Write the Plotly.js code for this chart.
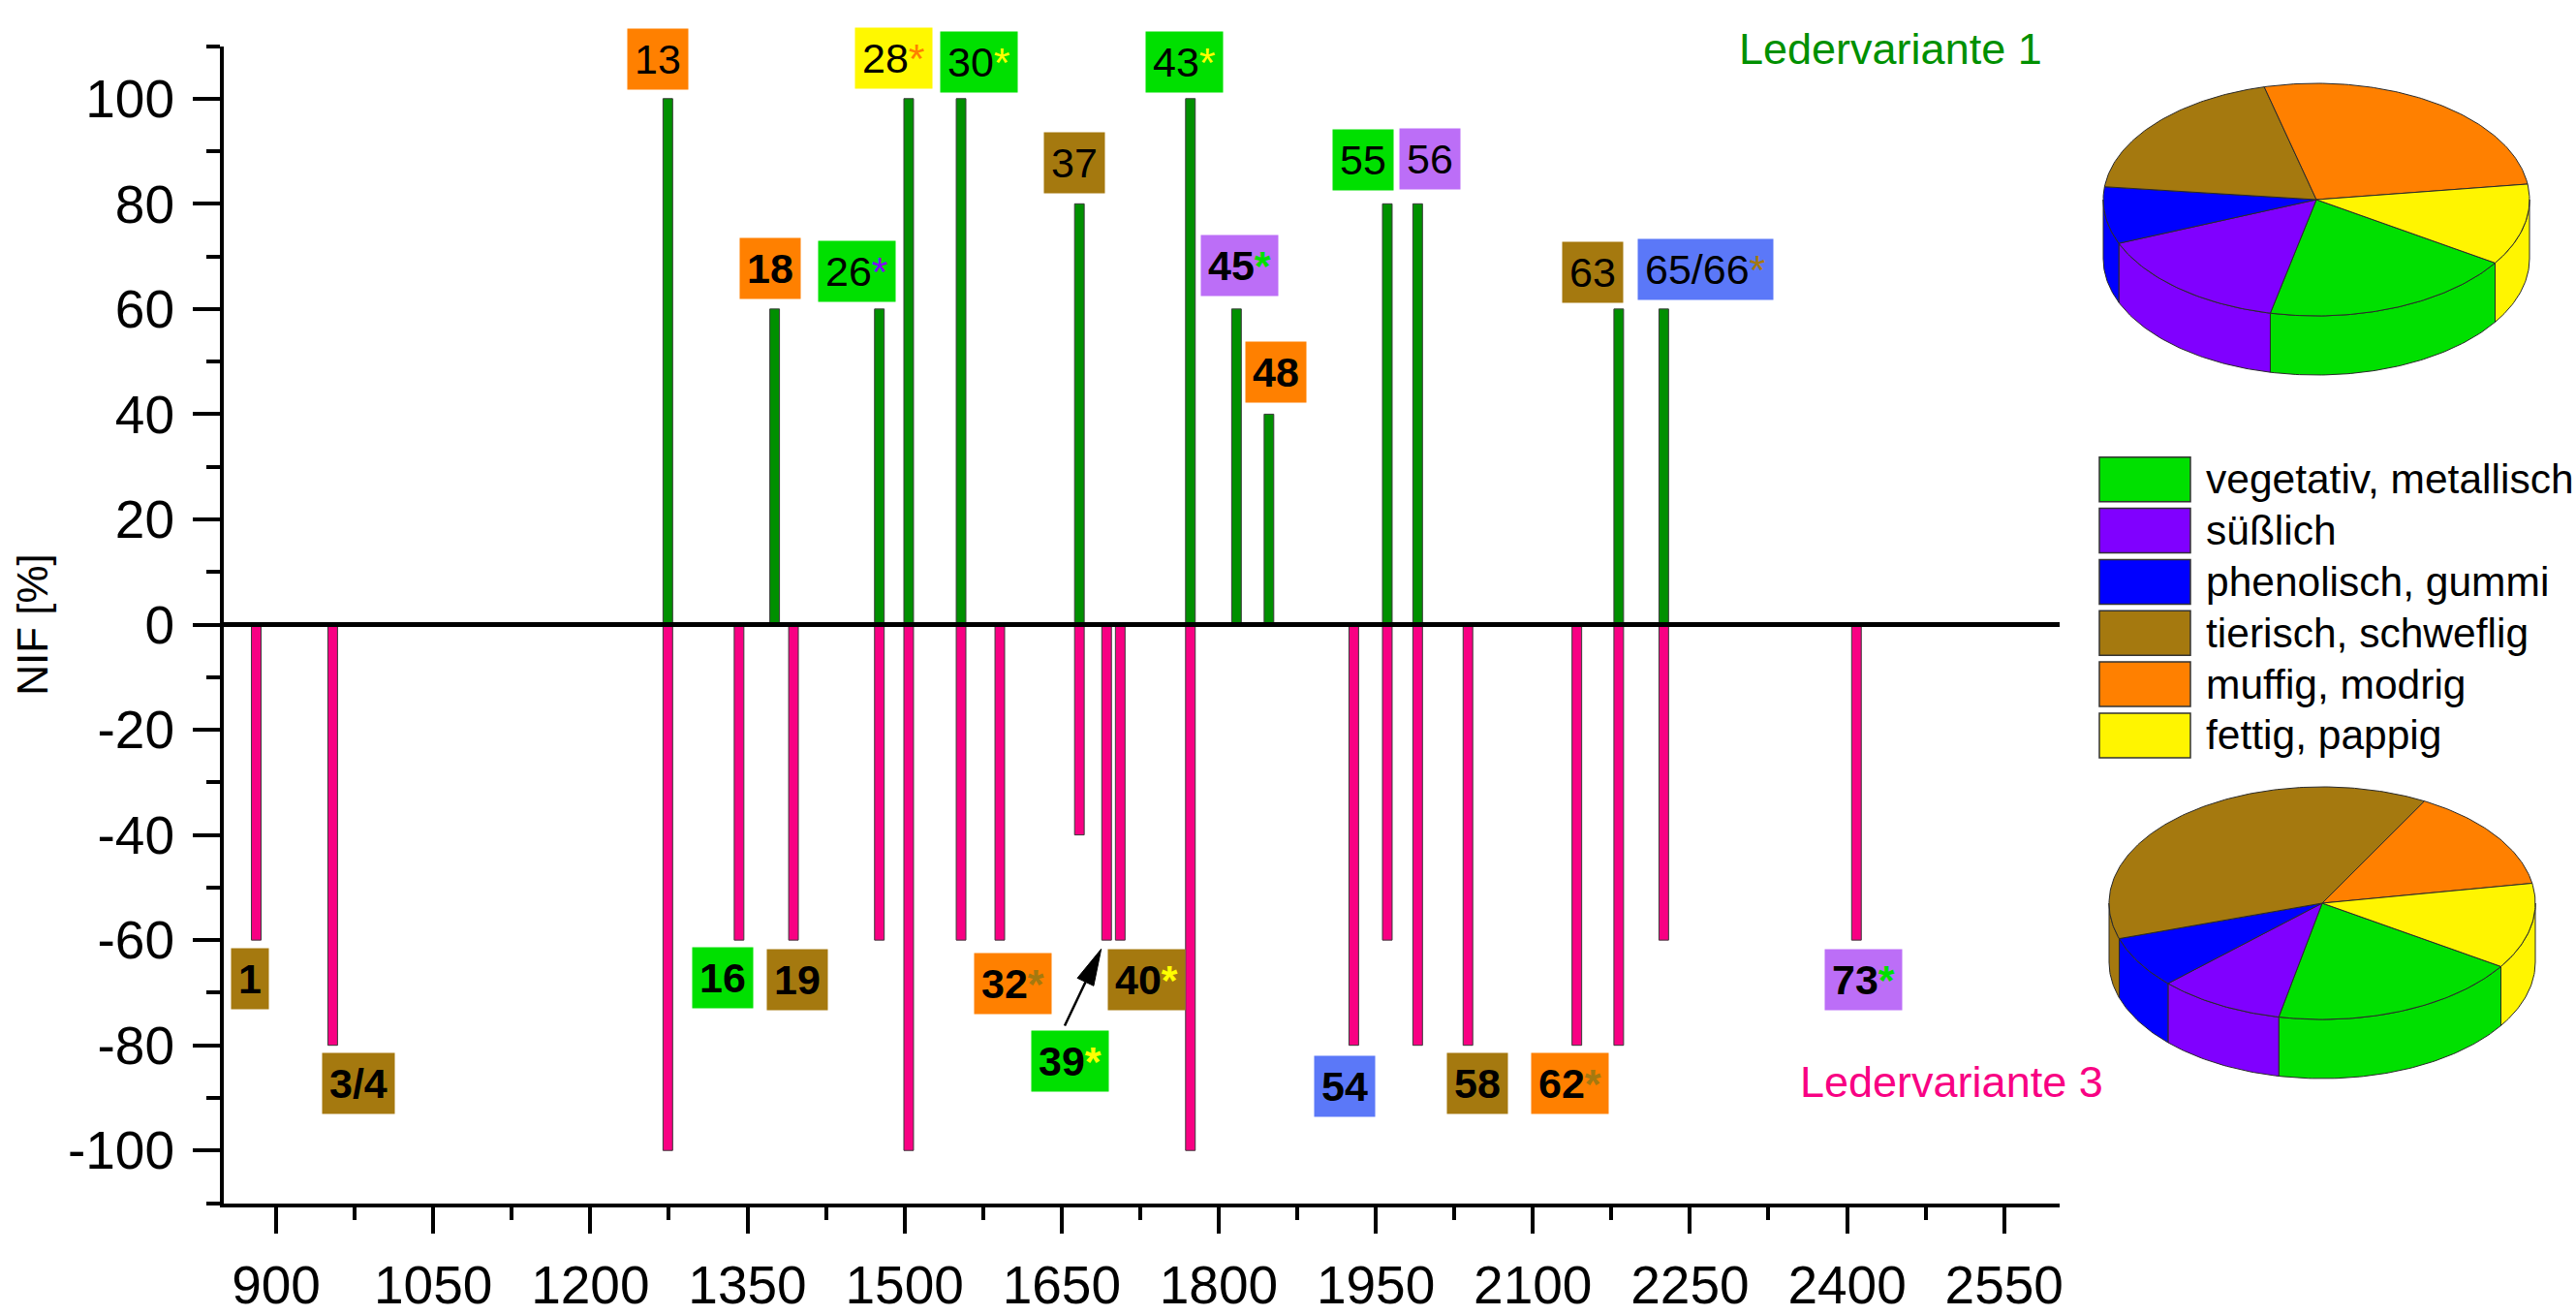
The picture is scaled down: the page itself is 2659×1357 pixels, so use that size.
<!DOCTYPE html>
<html>
<head>
<meta charset="utf-8">
<script src="https://cdn.plot.ly/plotly-3.0.1.min.js"></script>
<style>
  html, body { margin: 0; padding: 0; background: #ffffff; }
  #chart { width: 2659px; height: 1357px; }
</style>
</head>
<body>
<div id="chart"></div>
<script>
// ---- Data -------------------------------------------------------------
// Retention index and NIF of the odour-active compounds, leather variant 1
const riVariant1  = [1274, 1376, 1476, 1504, 1554, 1667, 1773, 1817, 1848, 1961, 1990, 2182, 2225];
const nifVariant1 = [100, 60, 60, 100, 100, 80, 100, 60, 40, 80, 80, 60, 60];

// Leather variant 3 (drawn downwards)
const riVariant3  = [881, 954, 1274, 1342, 1394, 1476, 1504, 1554, 1591, 1667, 1693, 1706, 1773, 1929, 1961, 1990, 2038, 2142, 2182, 2225, 2409];
const nifVariant3 = [-60, -80, -100, -60, -60, -60, -100, -60, -60, -40, -60, -60, -100, -80, -60, -80, -80, -80, -80, -60, -60];

// Odour categories
const categories = ['vegetativ, metallisch', 'süßlich', 'phenolisch, gummi', 'tierisch, schweflig', 'muffig, modrig', 'fettig, pappig'];

// Share of each category per variant (pie charts), in %
const shareVariant1 = [19.3, 15.4, 7.9, 19.3, 26.8, 11.3];
const shareVariant3 = [19.1, 9.6, 7.2, 37.9, 14.3, 11.9];

// Compound numbers above variant 1 (one per bar)
const labels1     = ['13', '18', '26', '28', '30', '37', '43', '45', '48', '55', '56', '63', '65/66'];
const labelCat1   = [4, 4, 0, 5, 0, 3, 0, 1, 4, 0, 1, 3, 2];
const labelStar1  = [-1, -1, 1, 4, 5, -1, 5, 0, -1, -1, -1, -1, 3];
const labelBold1  = [0, 1, 0, 0, 0, 0, 0, 1, 1, 0, 0, 0, 0];

// Compound numbers below variant 3 (index of the bar they belong to)
const labels3     = ['1', '3/4', '16', '19', '32', '39', '40', '54', '58', '62', '73'];
const labelBar3   = [0, 1, 3, 4, 8, 10, 11, 13, 16, 17, 20];
const labelCat3   = [3, 3, 0, 3, 4, 0, 3, 2, 3, 4, 1];
const labelStar3  = [-1, -1, -1, -1, 3, 5, 5, -1, -1, 3, 0];

const xTickValues = [900, 1050, 1200, 1350, 1500, 1650, 1800, 1950, 2100, 2250, 2400, 2550];
const yTickValues = [-100, -80, -60, -40, -20, 0, 20, 40, 60, 80, 100];
const yTickLabels = ['-100', '-80', '-60', '-40', '-20', '0', '20', '40', '60', '80', '100'];

// ---- Styling -----------------------------------------------------------
const W = 2659, H = 1357;
const FONT = 'Arial, "Liberation Sans", sans-serif';
const catColors = ['#00E000', '#8000FF', '#0000FF', '#A5790F', '#FF8000', '#FFF500'];
const boxColors = ['#00E000', '#BC6EF7', '#5B78F8', '#A5790F', '#FF8000', '#FFF800'];
const starColors = ['#00E000', '#8000FF', '#0000FF', '#A5790F', '#FF8000', '#FFFF00'];
const green = '#009000', pink = '#F80083';

// main plot frame in px
const plotL = 231, plotR = 2126, plotT = 47.5, plotB = 1241.5;
const xRange = [850, 2603], yRange = [-110, 110];
const xScale = (plotR - plotL) / (xRange[1] - xRange[0]);   // px per RI unit
const yScale = (plotB - plotT) / (yRange[1] - yRange[0]);   // px per NIF unit

// label placement relative to the bar end, in px (dx right, dy away from axis)
const place1 = [[-10, 41], [-5, 42], [-23, 39], [-15, 42], [18, 38], [-5, 42], [-6, 38], [3, 45], [7, 43], [-25, 45], [13, 46], [-27, 38], [43, 41]];
const place3 = [[-7, 40], [27, 39], [-17, 39], [4, 41], [13, 45], [-38, 125], [27, 41], [-9, 42], [10, 39], [-7, 39], [7, 41]];

// paper coordinates from pixel positions (margins are zero)
const px = v => v / W;
const py = v => 1 - v / H;

function labelText(t, bold, star) {
  let s = t;
  if (star >= 0) s += '<span style="color:' + starColors[star] + '">*</span>';
  return bold ? '<b>' + s + '</b>' : s;
}

const annotations = [];
const shapes = [];

labels1.forEach((t, i) => {
  annotations.push({
    x: riVariant1[i], y: nifVariant1[i], xref: 'x', yref: 'y',
    xshift: place1[i][0], yshift: place1[i][1],
    text: labelText(t, labelBold1[i], labelStar1[i]),
    showarrow: false, xanchor: 'center', yanchor: 'middle',
    bgcolor: boxColors[labelCat1[i]], borderpad: 7,
    font: { family: FONT, size: 43, color: '#000' }
  });
});

labels3.forEach((t, i) => {
  const b = labelBar3[i];
  annotations.push({
    x: riVariant3[b], y: nifVariant3[b], xref: 'x', yref: 'y',
    xshift: place3[i][0], yshift: -place3[i][1],
    text: labelText(t, 1, labelStar3[i]),
    showarrow: false, xanchor: 'center', yanchor: 'middle',
    bgcolor: boxColors[labelCat3[i]], borderpad: 7,
    font: { family: FONT, size: 43, color: '#000' }
  });
});

// pointer from label 39 to its bar: shaft plus a slim filled head
(function () {
  const b = labelBar3[labels3.indexOf('39')];
  const bx = riVariant3[b], by = nifVariant3[b];
  const toData = (dx, dy) => [bx + dx / xScale, by - dy / yScale];
  annotations.push({
    x: bx, y: by, xref: 'x', yref: 'y', xshift: -21.8, yshift: -43.2,
    ax: -22.2, ay: 46.7, text: '', showarrow: true, arrowhead: 0,
    arrowwidth: 2.5, arrowcolor: '#000', standoff: 0, startstandoff: 0
  });
  const tip = toData(-5.6, 9.2), c1 = toData(-13.4, 47.2), c2 = toData(-30.2, 39.2);
  shapes.push({
    type: 'path', xref: 'x', yref: 'y',
    path: 'M' + tip.join(',') + ' L' + c1.join(',') + ' L' + c2.join(',') + ' Z',
    fillcolor: '#000', line: { color: '#000', width: 1 }, layer: 'above'
  });
})();

annotations.push({
  xref: 'paper', yref: 'paper', x: px(1951), y: py(50), xanchor: 'center', yanchor: 'middle',
  text: 'Ledervariante 1', showarrow: false, font: { family: FONT, size: 45, color: green }
});
annotations.push({
  xref: 'paper', yref: 'paper', x: px(2014), y: py(1116), xanchor: 'center', yanchor: 'middle',
  text: 'Ledervariante 3', showarrow: false, font: { family: FONT, size: 45, color: pink }
});

// legend: colour boxes and names
categories.forEach((c, i) => {
  const top = 471.7 + i * 52.85;
  shapes.push({
    type: 'rect', xref: 'paper', yref: 'paper',
    x0: px(2167), x1: px(2261), y0: py(top + 46), y1: py(top),
    fillcolor: catColors[i], line: { color: '#333', width: 1.5 }, layer: 'above'
  });
  annotations.push({
    xref: 'paper', yref: 'paper', x: px(2275), y: py(top + 23), xanchor: 'left', yanchor: 'middle',
    text: c, showarrow: false, font: { family: FONT, size: 42.5, color: '#000' }
  });
});

// zero line across the plot
shapes.push({
  type: 'line', xref: 'x domain', yref: 'y', x0: 0, x1: 1, y0: 0, y1: 0,
  line: { color: '#000', width: 5 }, layer: 'above'
});

// ---- 3D-look pie built from the category shares ------------------------
function pieTraces(values, xa, ya) {
  const rx = 220, ry = 120, depth = 61, start = -33;
  const total = values.reduce((a, b) => a + b, 0);
  const rad = d => d * Math.PI / 180;
  const sides = [], tops = [];
  let a0 = start;
  values.forEach((v, i) => {
    const a1 = a0 - 360 * v / total;
    const tx = [0], ty = [0];
    const n = Math.max(2, Math.ceil(a0 - a1));
    for (let k = 0; k <= n; k++) {
      const t = rad(a0 - (a0 - a1) * k / n);
      tx.push(rx * Math.cos(t)); ty.push(ry * Math.sin(t));
    }
    tx.push(0); ty.push(0);
    tops.push({
      type: 'scatter', mode: 'lines', x: tx, y: ty, xaxis: xa, yaxis: ya,
      fill: 'toself', fillcolor: catColors[i], line: { color: '#2a2a2a', width: 1 },
      hoverinfo: 'skip', showlegend: false
    });
    [[-180, 0], [-540, -360]].forEach(([lo, hi]) => {
      const s = Math.max(a1, lo), e = Math.min(a0, hi);
      if (e > s) {
        const m = Math.max(2, Math.ceil(e - s));
        const sx = [], sy = [];
        for (let k = 0; k <= m; k++) {
          const t = rad(s + (e - s) * k / m);
          sx.push(rx * Math.cos(t)); sy.push(ry * Math.sin(t));
        }
        for (let k = m; k >= 0; k--) {
          const t = rad(s + (e - s) * k / m);
          sx.push(rx * Math.cos(t)); sy.push(ry * Math.sin(t) - depth);
        }
        sx.push(sx[0]); sy.push(sy[0]);
        sides.push({
          type: 'scatter', mode: 'lines', x: sx, y: sy, xaxis: xa, yaxis: ya,
          fill: 'toself', fillcolor: catColors[i], line: { color: '#2a2a2a', width: 1 },
          hoverinfo: 'skip', showlegend: false
        });
      }
    });
    a0 = a1;
  });
  return sides.concat(tops);
}

// ---- Traces ------------------------------------------------------------
const traces = [
  {
    type: 'bar', name: 'Ledervariante 1', x: riVariant1, y: nifVariant1, width: 9.2,
    marker: { color: green, line: { color: '#3a3a3a', width: 1 } }, hoverinfo: 'skip'
  },
  {
    type: 'bar', name: 'Ledervariante 3', x: riVariant3, y: nifVariant3, width: 9.2,
    marker: { color: pink, line: { color: '#3a3a3a', width: 1 } }, hoverinfo: 'skip'
  }
].concat(pieTraces(shareVariant1, 'x2', 'y2'), pieTraces(shareVariant3, 'x3', 'y3'));

const axisCommon = {
  showline: true, linecolor: '#000', linewidth: 4, mirror: false,
  ticks: 'outside', tickwidth: 4, tickcolor: '#000',
  showgrid: false, zeroline: false,
  tickfont: { family: FONT, size: 55, color: '#000' }
};

const layout = {
  width: W, height: H,
  margin: { l: 0, r: 0, t: 0, b: 0, pad: 0 },
  paper_bgcolor: '#fff', plot_bgcolor: '#fff',
  showlegend: false, barmode: 'overlay',
  font: { family: FONT, color: '#000' },
  xaxis: Object.assign({}, axisCommon, {
    domain: [px(plotL), px(plotR)], range: xRange, anchor: 'y',
    tickmode: 'array', tickvals: xTickValues, ticklen: 27,
    ticklabelstandoff: 6,
    minor: { dtick: 75, tick0: 900, ticks: 'outside', ticklen: 13, tickwidth: 4, tickcolor: '#000' }
  }),
  yaxis: Object.assign({}, axisCommon, {
    domain: [py(plotB), py(plotT)], range: yRange, anchor: 'x',
    tickmode: 'array', tickvals: yTickValues, ticktext: yTickLabels, ticklen: 28,
    ticklabelstandoff: 8,
    minor: { dtick: 10, tick0: 0, ticks: 'outside', ticklen: 14, tickwidth: 4, tickcolor: '#000' },
    title: { text: 'NIF [%]', font: { family: FONT, size: 44, color: '#000' }, standoff: 8 }
  }),
  xaxis2: { domain: [px(2141), px(2641)], range: [-250, 250], anchor: 'y2', visible: false, fixedrange: true },
  yaxis2: { domain: [py(406), py(56)], range: [-200, 150], anchor: 'x2', visible: false, fixedrange: true },
  xaxis3: { domain: [px(2147), px(2647)], range: [-250, 250], anchor: 'y3', visible: false, fixedrange: true },
  yaxis3: { domain: [py(1132), py(782)], range: [-200, 150], anchor: 'x3', visible: false, fixedrange: true },
  shapes: shapes,
  annotations: annotations
};

Plotly.newPlot('chart', traces, layout, { displayModeBar: false, staticPlot: true });
</script>
</body>
</html>
